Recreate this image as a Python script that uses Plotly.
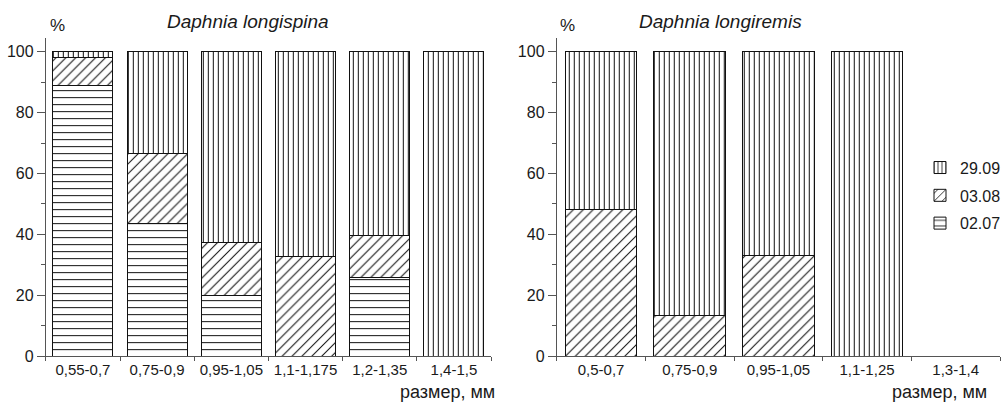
import plotly.graph_objects as go

W, H = 1006, 410

# ---- data ----
left_categories = ["0,55-0,7", "0,75-0,9", "0,95-1,05", "1,1-1,175", "1,2-1,35", "1,4-1,5"]
left_0207 = [89, 43.6, 20.0, None, 25.9, None]
left_0308 = [9, 23.0, 17.4, 32.6, 13.7, None]
left_2909 = [2, 33.4, 62.6, 67.4, 60.4, 100]

right_categories = ["0,5-0,7", "0,75-0,9", "0,95-1,05", "1,1-1,25", "1,3-1,4"]
right_0207 = [None, None, None, None, None]
right_0308 = [48.2, 13.4, 33.2, None, None]
right_2909 = [51.8, 86.6, 66.8, 100, None]

series_names = ["02.07", "03.08", "29.09"]
legend_ranks = [3, 2, 1]
left_title = "Daphnia longispina"
right_title = "Daphnia longiremis"
y_label = "%"
x_label = "размер, мм"

patterns = {"02.07": dict(shape="-", size=7, solidity=0.15),
            "03.08": dict(shape="/", size=7, solidity=0.15),
            "29.09": dict(shape="|", size=5, solidity=0.2)}

FONT = "Liberation Sans, Arial, sans-serif"
INK = "#1a1a1a"
AXC = "#555"


def px(x):
    return x / W


def py(y):
    return 1 - y / H


fig = go.Figure()

for name, rank, lv, rv in zip(series_names, legend_ranks,
                              [left_0207, left_0308, left_2909],
                              [right_0207, right_0308, right_2909]):
    pat = dict(fgcolor="#111", bgcolor="white", fillmode="replace", **patterns[name])
    mk = dict(color="white", pattern=pat, line=dict(color="#111", width=1))
    fig.add_trace(go.Bar(x=left_categories, y=lv, name=name, legendgroup=name,
                         legendrank=rank, marker=mk, xaxis="x", yaxis="y",
                         showlegend=True, hoverinfo="skip"))
    fig.add_trace(go.Bar(x=right_categories, y=rv, name=name, legendgroup=name,
                         legendrank=rank, marker=mk, xaxis="x2", yaxis="y2",
                         showlegend=False, hoverinfo="skip"))

axis_common = dict(showline=True, linecolor=AXC, linewidth=1, showgrid=False,
                   zeroline=False, ticks="outside", tickcolor=AXC)

xcommon = dict(axis_common, type="category", tickson="boundaries", ticklen=4,
               tickangle=0, tickfont=dict(family=FONT, size=15, color=INK))
ycommon = dict(axis_common, range=[0, 104.5], tickvals=[0, 20, 40, 60, 80, 100],
               ticklen=8, tickfont=dict(family=FONT, size=16, color=INK),
               minor=dict(ticks="outside", ticklen=4, tickcolor=AXC,
                          tickvals=[10, 30, 50, 70, 90]))

ydom = [py(364), py(39)]


def ann(text, x, y, size, xanchor="center"):
    return dict(text=text, x=px(x), y=py(y), xref="paper", yref="paper",
                xanchor=xanchor, yanchor="middle", showarrow=False,
                font=dict(size=size, family=FONT, color=INK))


fig.update_layout(
    width=W, height=H,
    margin=dict(l=0, r=0, t=0, b=0),
    paper_bgcolor="white", plot_bgcolor="white",
    barmode="stack", bargap=0.19,
    font=dict(family=FONT, color=INK),
    xaxis=dict(xcommon, domain=[px(46), px(493)], anchor="y",
               categoryorder="array", categoryarray=left_categories,
               range=[-0.5, len(left_categories) - 0.5]),
    yaxis=dict(ycommon, domain=ydom, anchor="x"),
    xaxis2=dict(xcommon, domain=[px(559), px(1004)], anchor="y2",
                categoryorder="array", categoryarray=right_categories,
                range=[-0.5, len(right_categories) - 0.5]),
    yaxis2=dict(ycommon, domain=ydom, anchor="x2"),
    legend=dict(x=px(924), y=py(154), xanchor="left", yanchor="top",
                traceorder="grouped", tracegroupgap=4, itemwidth=30,
                font=dict(family="Liberation Sans Narrow, " + FONT, size=16, color=INK),
                bgcolor="rgba(0,0,0,0)"),
    showlegend=True,
    annotations=[
        ann("<i>" + left_title + "</i>", 249, 22, 19),
        ann("<i>" + right_title + "</i>", 723, 22, 19),
        ann(y_label, 58, 26, 17),
        ann(y_label, 570, 26, 17),
        ann(x_label, 499, 401, 18, "right"),
        ann(x_label, 993, 401, 18, "right"),
    ],
)

fig.write_html("out.html", config={"displayModeBar": False},
               post_script="document.body.style.margin='0';document.body.style.overflow='hidden';")
